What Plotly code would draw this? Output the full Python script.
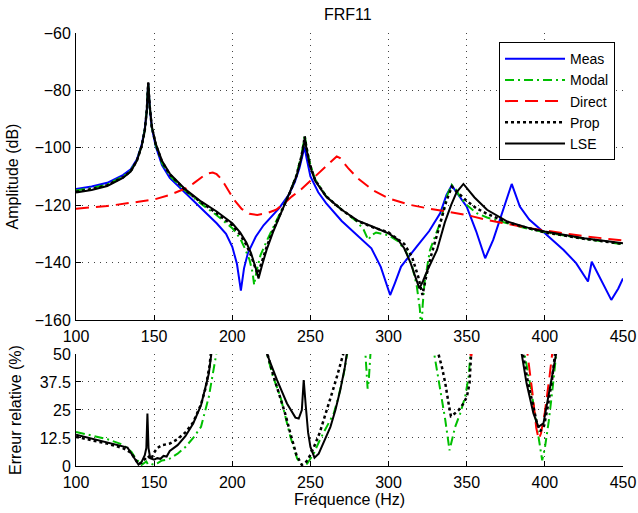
import plotly.graph_objects as go
from plotly.subplots import make_subplots

N = None

# ---------------- top panel: amplitude (dB) ----------------
meas_f = [100, 110, 120, 130, 135, 139, 142, 144, 145.3, 146.2, 147.2, 148.5, 151, 155, 160, 170, 180, 190, 196,
          200, 203, 205.5, 207.5, 210, 215, 220, 230, 236, 240, 243, 245, 246.2, 247.5, 250, 255, 260, 270, 280,
          289, 295, 299, 301, 304, 308, 318, 326, 333, 337, 340.4, 344, 350, 356, 361.8, 367, 373.5, 378.8, 384,
          390, 400, 412, 420, 427.6, 430, 435, 442.5, 447, 450]
meas_db = [-114.4, -113.5, -112.2, -109.5, -107.5, -104, -99, -93.5, -87, -77.5, -86, -93, -99.5, -106, -110.5,
           -115.8, -121, -126.3, -130, -134.5, -140.5, -149.8, -142, -136.7, -131, -127, -121, -116.5, -112, -107,
           -102.5, -99.7, -103.5, -110, -115.5, -119.3, -125.5, -130.5, -135, -141.5, -148.5, -151.3, -147.2,
           -141.4, -134.4, -129, -122.8, -116.5, -113.1, -116, -120.5, -129, -138.5, -132, -121.6, -112.6, -120.5,
           -125, -129.8, -135.6, -140.2, -146.6, -139.7, -144.9, -153, -149, -145.5]

modal_f = [100, 110, 120, 130, 135, 139, 142, 144, 145.3, 146.2, 147.2, 148.5, 151, 155, 160, 170, 180, 190, 200,
           205, 208, 211, 213, 214, 215.5, 218, 222, 226, 232, 237, 241, 244, 245.5, 246.3, 247.5, 249.5, 253, 260,
           270, 280, 284, 287, 289, 292, 300, 306, 311, 315, 318, 320, 321, 321.8, 323, 326.5, 332.9, 337.2, 340.4,
           343, 345.7, 350, 356.4, 363, 376, 390, 400, 425, 450]
modal_db = [-114.9, -114, -112.8, -110, -108, -104.3, -99.3, -93.8, -87, -77.5, -85.8, -92.8, -99, -105.3, -109.8,
            -115, -119.5, -123.5, -128, -131.5, -135, -139, -143.5, -147.8, -143, -137.5, -132.5, -128, -121.3,
            -115.5, -109.5, -103, -98.5, -95.5, -99.5, -105, -111, -116.8, -121.6, -125.8, -128.5, -132.1, -130.5,
            -129.5, -130.5, -132.5, -136, -141, -148, -156, -165, -155, -147, -135.6, -126.3, -117, -112.9, -114.5,
            -117, -119.9, -122.8, -124.3, -126.3, -128.3, -129.4, -131.7, -133.6]

direct_f = [100, 120, 140, 150, 160, 170, 175, 179, 182, 185, 187.5, 190, 192.5, 195, 198, 201, 206, 211, 216, 222,
            228, 233, 238, 244, 250, 256, 261, 264, 266.8, 269, 274, 280, 290, 300, 313, 326, 340, 350, 362, 375,
            390, 400, 425, 450]
direct_db = [-121.2, -120.3, -118.8, -118, -116.4, -114.2, -112.5, -110.8, -109.6, -108.9, -108.6, -109.2, -110.6,
             -112.6, -115.3, -118, -121.3, -123, -123.4, -122.8, -121.6, -119.5, -117, -114.5, -111.5, -108.5, -106,
             -104.2, -103, -103.6, -107, -110.5, -114.8, -117.6, -119.8, -121.2, -122.5, -123.4, -125, -126.5,
             -128, -128.8, -130.8, -132.3]

prop_f = [100, 110, 120, 130, 135, 139, 142, 144, 145.3, 146.2, 147.2, 148.5, 151, 155, 160, 170, 180, 190, 200,
          205, 209, 212, 214.5, 216.3, 218.5, 222, 226, 232, 237, 241, 244, 245.5, 246.3, 247.5, 249.5, 253, 260,
          270, 280, 290, 300, 310, 315, 319, 321.7, 324, 327, 333, 337, 340.5, 344, 350, 356, 363, 376, 400, 425,
          450]
prop_db = [-115.3, -114.4, -113, -110.3, -108.2, -104.4, -99.4, -93.9, -87, -77.4, -85.7, -92.7, -98.8, -104.8,
           -109.3, -114.8, -119, -122.8, -127, -130.2, -133.8, -137.5, -141.5, -144, -140.5, -134.5, -128.8,
           -121.4, -115.5, -109.8, -103.5, -99.3, -96, -100, -105.5, -111.2, -116.9, -121.6, -125.5, -127.7,
           -129.5, -133.5, -138, -145, -151.3, -145, -138, -126.5, -118.5, -113.5, -115.5, -118.5, -121, -123,
           -126, -129.5, -131.7, -133.5]

lse_f = [100, 110, 120, 130, 135, 139, 142, 144, 145.3, 146.2, 147.2, 148.5, 151, 155, 160, 170, 180, 190, 200,
         205, 209, 212, 215, 216.8, 219, 222, 226, 232, 237, 241, 244, 245.5, 246.5, 247.5, 249.5, 253, 260, 270,
         280, 290, 300, 306, 310, 314, 317, 319.7, 322, 325, 331, 336, 340, 343.5, 347.9, 351, 355, 363, 376, 390,
         400, 425, 450]
lse_db = [-115.6, -114.7, -113.3, -110.5, -108.3, -104.5, -99.5, -94, -87, -77.2, -85.5, -92.5, -98.5, -104.5,
          -109, -114.5, -118.7, -122.2, -126.3, -129.5, -133, -136.7, -142, -145.5, -141, -135.5, -129.5, -121.6,
          -115.5, -110, -104, -100, -97, -100.5, -106, -111.5, -117, -121.6, -125.3, -127.5, -129.8, -132, -135,
          -140, -145, -149, -146.5, -142.5, -135.6, -126, -120, -115.5, -112.6, -114.5, -117.3, -121.6, -125.7,
          -128, -129.2, -131.5, -133.3]

# ---------------- bottom panel: relative error (%) ----------------
e_modal_f = [100, 110, 120, 130, 135.5, 138, 140, 142, 145, 146, 148, 150, 152, 155, 158, 160, 165, 170, 175, 180,
             185, 188, 190, 191, N,
             221, 222.2, 226, 230.8, 234, 237.2, 241.5, 244.7, 247.9, 252.1, 256.4, 260, 264.9, 268, 271.3, 273.5,
             274.5, N,
             284.5, 285.2, 286.6, 287.3, 288.4, 289, N,
             328.5, 329.2, 333.1, 336.3, 339, 340.5, 342.6, 345.8, 349, 351.2, 352.5, 353, N,
             386, 387, 391, 394.5, 397, 398.3, 400, 402.5, 405, 407.4, 408]
e_modal = [15.2, 13.6, 12, 9.5, 6.3, 3.5, 1.8, 0.5, 2, 0.8, 1, 0.5, 1.2, 2.5, 2.8, 3.3, 5.5, 8.5, 12.5, 17.5,
           30.9, 42, 50, 55, N,
           55, 50, 40, 30.9, 22, 13, 3.3, 0.3, 1, 5.5, 12.2, 17, 23.4, 31, 41, 50, 55, N,
           55, 50, 34.5, 38, 50, 55, N,
           55, 50, 33.9, 20.5, 7, 11.5, 17.5, 23.4, 30.9, 39.8, 49, 55, N,
           55, 50, 35, 20, 8, 2.5, 8, 20, 35, 50, 55]

e_direct_f = [351.5, 352.8, 353.8, N,
              388, 389, 392, 394.5, 396, 397.5, 400, 403, 405, 405.5]
e_direct = [55, 47.5, 55, N,
            55, 50, 33, 17, 12, 14.5, 24, 40, 50, 55]

e_prop_f = [100, 110, 120, 130, 135, 138, 140, 142, 144, 146, 148, 150, 152, 155, 160, 165, 170, 175, 180, 183,
            185.5, 186.5, 187, N,
            221.5, 222.5, 226, 230, 234, 237, 241, 244.5, 247.5, 250, 252, 256, 260.6, 264, 267, 271, 272, N,
            331, 331.9, 334.1, 336.3, 338.4, 339.9, 340.8, 344.8, 348, 350.1, 351.8, 352.7, 353.2, N,
            385, 386, 389, 392.5, 395, 397, 399.5, 402, 404.5, 406.5, 407]
e_prop = [13, 11.5, 10, 8, 6, 3, 0.8, 1.5, 3, 4.5, 3, 6, 8, 9.3, 10, 12, 15, 19.5, 27.5, 35, 45, 50, 55, N,
          55, 50, 41, 32, 23, 15, 5, 0.5, 2, 5, 8, 15, 24.9, 33, 40, 50, 55, N,
          55, 50, 44.3, 36.9, 27.9, 22.2, 22.5, 24.9, 28, 30.9, 36.9, 46, 55, N,
          55, 50, 38, 26, 19, 15.5, 18, 27, 38, 50, 55]

e_lse_f = [100, 110, 120, 130, 133, 135.5, 138, 140, 142, 144, 145, 145.7, 146.4, 147.5, 150, 152, 154, 156, 158,
           160, 165, 170, 175, 180, 185, 187.5, N,
           221, 222.2, 228.6, 235, 240.4, 242.5, 244.5, 245.7, 247, 248.5, 250, 252.6, 255.3, 258, 260.7, 262.8,
           266, 269.1, 272, 273.5, 274.5, N,
           384, 385.1, 388.3, 392.7, 395.9, 399.1, 402.3, 405.5, 407.2, 407.7]
e_lse = [14, 12.2, 10.7, 8.8, 8.2, 5.5, 2.5, 0.6, 1.8, 4.8, 8, 23.4, 8, 3.5, 2.8, 3.5, 3.2, 4.5, 4.2, 6.7, 9.3,
         13.3, 19, 27.2, 41.3, 55, N,
         55, 50, 38.4, 27.9, 21.6, 21.2, 25, 38.4, 27, 15, 8.5, 3.7, 5.5, 10, 14, 17.5, 25, 33.9, 44, 50, 56, N,
         55, 50, 36.9, 23.4, 17.5, 19, 30.9, 44.3, 50, 55]

x_ticks = [100, 150, 200, 250, 300, 350, 400, 450]
db_ticks = [-160, -140, -120, -100, -80, -60]
err_ticks = [0, 12.5, 25, 37.5, 50]
err_labels = ["0", "12.5", "25", "37.5", "50"]

BLUE, GREEN, RED, BLACK = "#0000ff", "#00bf00", "#ff0000", "#000000"
styles = {
    "Meas": dict(color=BLUE, width=2, dash="solid"),
    "Modal": dict(color=GREEN, width=2, dash="9px,4px,2px,4px"),
    "Direct": dict(color=RED, width=2, dash="13px,7px"),
    "Prop": dict(color=BLACK, width=2.5, dash="3px,3px"),
    "LSE": dict(color=BLACK, width=2, dash="solid"),
}

fig = make_subplots(rows=2, cols=1)

top = [("Meas", meas_f, meas_db), ("Modal", modal_f, modal_db), ("Direct", direct_f, direct_db),
       ("Prop", prop_f, prop_db), ("LSE", lse_f, lse_db)]
for name, f, v in top:
    fig.add_trace(go.Scatter(x=f, y=v, mode="lines", name=name, line=styles[name], showlegend=True),
                  row=1, col=1)

bottom = [("Modal", e_modal_f, e_modal), ("Direct", e_direct_f, e_direct),
          ("Prop", e_prop_f, e_prop), ("LSE", e_lse_f, e_lse)]
for name, f, v in bottom:
    fig.add_trace(go.Scatter(x=f, y=v, mode="lines", name=name, line=styles[name], showlegend=False,
                             connectgaps=False), row=2, col=1)

FONT = "Liberation Sans, Arial, sans-serif"
FS = 16
tfont = dict(size=FS, color="black", family=FONT)
axis_common = dict(showline=True, linecolor="black", linewidth=1, ticks="inside", ticklen=5,
                   tickcolor="black", showgrid=True, gridcolor="#444444", gridwidth=1, griddash="1px,5px",
                   zeroline=False, mirror=False, tickfont=tfont, automargin=False)

fig.update_xaxes(**axis_common, range=[100, 450], tickvals=x_ticks, ticklabelstandoff=2)
fig.update_xaxes(domain=[0, 1], row=1, col=1)
fig.update_xaxes(domain=[0, 1], row=2, col=1,
                 title=dict(text="Fréquence (Hz)", font=tfont, standoff=2))
fig.update_yaxes(**axis_common, ticklabelstandoff=1)
fig.update_yaxes(domain=[0.3372, 1], range=[-160, -60], tickvals=db_ticks, row=1, col=1,
                 title=dict(text="Amplitude (dB)", font=tfont, standoff=12))
fig.update_yaxes(domain=[0, 0.2587], range=[0, 50], tickvals=err_ticks, ticktext=err_labels, row=2, col=1,
                 title=dict(text="Erreur relative (%)", font=tfont, standoff=14))

fig.update_layout(
    width=638, height=513,
    margin=dict(l=76, r=15, t=33, b=47, autoexpand=False),
    paper_bgcolor="white", plot_bgcolor="white",
    font=dict(family=FONT, size=FS, color="black"),
    title=dict(text="FRF11", xref="paper", x=0.497, xanchor="center", y=0.9727, yanchor="middle",
               font=tfont),
    legend=dict(x=0.9854, y=0.979, xanchor="right", yanchor="top", bgcolor="white",
                bordercolor="black", borderwidth=1, font=dict(size=14, color="black", family=FONT),
                tracegroupgap=0, itemwidth=60),
    showlegend=True,
)

fig.write_html("out.html", config={"displayModeBar": False},
               post_script="document.body.style.margin='0px';")
